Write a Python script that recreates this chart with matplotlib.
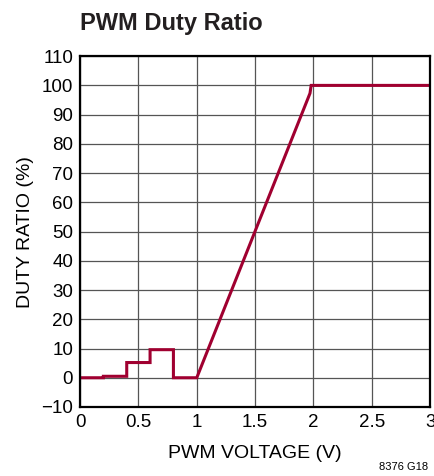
import matplotlib
matplotlib.use('Agg')
import matplotlib.pyplot as plt

plt.rcParams['font.family'] = ['Liberation Sans', 'DejaVu Sans']

# step section (0..1 V) then linear ramp and clamp at 100 %
volts = [0, 0.2, 0.2, 0.4, 0.4, 0.6, 0.6, 0.8, 0.8, 1.0, 1.97, 1.98, 3.0]
duty = [0, 0, 0.5, 0.5, 5.2, 5.2, 9.6, 9.6, 0, 0, 97.3, 100, 100]

xticks = [0, 0.5, 1, 1.5, 2, 2.5, 3]
xlabels = ['0', '0.5', '1', '1.5', '2', '2.5', '3']
yticks = list(range(-10, 111, 10))

fig = plt.figure(figsize=(4.35, 4.76), dpi=100)
ax = fig.add_axes([0.184, 0.145, 0.805, 0.737])

ax.plot(volts, duty, color='#A00030', lw=2.2, solid_joinstyle='miter')

ax.set_xlim(0, 3)
ax.set_ylim(-10, 110)
ax.set_xticks(xticks)
ax.set_xticklabels(xlabels)
ax.set_yticks(yticks)
ax.set_yticklabels(['\u221210' if t < 0 else str(t) for t in yticks])
ax.tick_params(length=0, labelsize=13.5, pad=5)
ax.grid(True, color='#555555', lw=0.9)
ax.set_axisbelow(True)
for s in ax.spines.values():
    s.set_linewidth(1.6)

ax.set_xlabel('PWM VOLTAGE (V)', fontsize=14, labelpad=10)
ax.set_ylabel('DUTY RATIO (%)', fontsize=14, labelpad=5)

fig.text(0.184, 0.950, 'PWM Duty Ratio', fontsize=17, fontweight='bold',
         color='#231F20', ha='left', va='center')
fig.text(0.985, 0.008, '8376 G18', fontsize=8, ha='right', va='bottom')

fig.savefig('out.png', dpi=100)
